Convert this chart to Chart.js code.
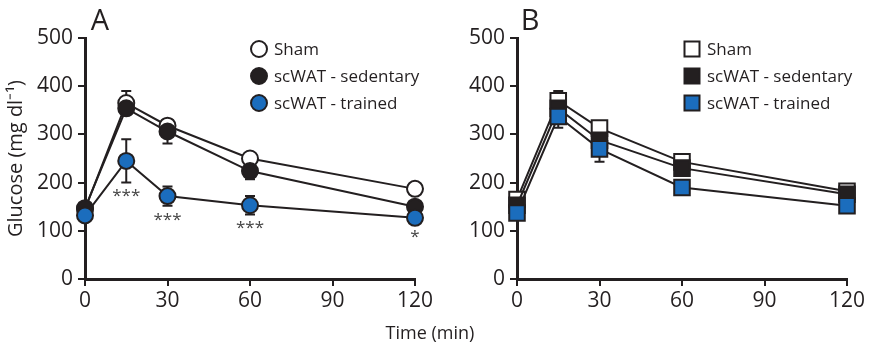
<!DOCTYPE html>
<html><head><meta charset="utf-8">
<script src="https://cdn.jsdelivr.net/npm/chart.js@4.4.0/dist/chart.umd.min.js"></script>
<style>
body{margin:0;background:#fff;width:869px;height:344px;position:relative;overflow:hidden;font-family:'Open Sans',sans-serif;color:#231f20}
#ca{position:absolute;left:0;top:0}
#cb{position:absolute;left:440px;top:0}
#xt{position:absolute;left:330px;width:200px;text-align:center;top:321px;font-size:18px;line-height:22px}
</style></head><body>
<canvas id="ca" width="440" height="344"></canvas>
<canvas id="cb" width="429" height="344"></canvas>
<div id="xt">Time (min)</div>
<script>
const time = [0, 15, 30, 60, 120];
const xTicks = [0, 30, 60, 90, 120];
const yTicks = [0, 100, 200, 300, 400, 500];
const seriesLabels = ['Sham', 'scWAT - sedentary', 'scWAT - trained'];
// Panel A
const shamA = [145, 365, 318, 250, 187];
const shamAErr = [8, 25, 12, 8, 6];
const sedA = [147, 354, 306, 224, 150];
const sedAErr = [8, 10, 25, 17, 8];
const trainA = [132, 245, 172, 153, 127];
const trainAErr = [6, 45, 20, 19, 5];
const sigA = ['', '***', '***', '***', '*'];
// Panel B
const shamB = [165, 370, 313, 243, 182];
const shamBErr = [15, 20, 12, 10, 8];
const sedB = [153, 354, 288, 230, 176];
const sedBErr = [10, 15, 15, 15, 8];
const trainB = [137, 337, 270, 190, 152];
const trainBErr = [10, 23, 27, 8, 6];

const INK = '#231f20';
const BLUE = '#1b6dbd';
const FONT = "'Open Sans', sans-serif";
const fills = ['#ffffff', INK, BLUE];

const errPlugin = {
  id: 'err',
  beforeDatasetsDraw(chart) {
    const ctx = chart.ctx, xs = chart.scales.x, ys = chart.scales.y;
    ctx.save();
    ctx.strokeStyle = INK; ctx.lineWidth = 2;
    chart.data.datasets.forEach(ds => {
      ds.vals.forEach((v, i) => {
        const px = xs.getPixelForValue(time[i]);
        const t = ys.getPixelForValue(v + ds.errs[i]);
        const b = ys.getPixelForValue(v - ds.errs[i]);
        ctx.beginPath();
        ctx.moveTo(px, t); ctx.lineTo(px, b);
        ctx.moveTo(px - 5, t); ctx.lineTo(px + 5, t);
        ctx.moveTo(px - 5, b); ctx.lineTo(px + 5, b);
        ctx.stroke();
      });
    });
    ctx.restore();
  }
};

function extrasPlugin(cfg) {
  return {
    id: 'extras',
    afterDraw(chart) {
      const ctx = chart.ctx, xs = chart.scales.x, ys = chart.scales.y;
      ctx.save();
      ctx.fillStyle = INK;
      ctx.font = "29px " + FONT;
      ctx.textAlign = 'center'; ctx.textBaseline = 'middle';
      ctx.fillText(cfg.letter, cfg.letterX, 22);
      ctx.font = "17px " + FONT;
      ctx.textAlign = 'left';
      seriesLabels.forEach((lab, i) => {
        const y = 49 + i * 27;
        ctx.beginPath();
        if (cfg.style === 'circle') {
          ctx.arc(cfg.legX, y, 8, 0, Math.PI * 2);
        } else {
          ctx.rect(cfg.legX - 7.5, y - 7.5, 15, 15);
        }
        ctx.fillStyle = fills[i]; ctx.fill();
        ctx.lineWidth = 2; ctx.strokeStyle = INK; ctx.stroke();
        ctx.fillStyle = INK;
        ctx.fillText(lab, cfg.legX + 15, y + 1);
      });
      if (cfg.sig) {
        ctx.fillStyle = '#444';
        ctx.font = "17px " + FONT;
        ctx.textAlign = 'center'; ctx.textBaseline = 'middle';
        cfg.sig.forEach((s, i) => {
          if (!s) return;
          const px = xs.getPixelForValue(time[i]);
          const low = ys.getPixelForValue(cfg.sigVals[i] - cfg.sigErr[i]);
          const mk = ys.getPixelForValue(cfg.sigVals[i]) + 5;
          ctx.fillText(s, px, Math.max(low, mk) + 14);
        });
      }
      ctx.restore();
    }
  };
}

function makeChart(id, cfg) {
  const datasets = cfg.series.map((s, i) => ({
    label: seriesLabels[i],
    data: time.map((t, j) => ({ x: t, y: s.v[j] })),
    vals: s.v, errs: s.e,
    borderColor: INK, borderWidth: 2,
    pointRadius: cfg.r, pointStyle: cfg.style,
    pointBackgroundColor: fills[i], pointBorderColor: INK, pointBorderWidth: 2,
    order: 3 - i, tension: 0, fill: false, clip: false
  }));
  const tickFont = { family: FONT, size: 21 };
  return new Chart(document.getElementById(id), {
    type: 'line',
    data: { datasets },
    options: {
      responsive: false, animation: false, events: [],
      layout: { padding: { left: 0, right: cfg.padR, top: 38, bottom: 0 } },
      plugins: { legend: { display: false }, tooltip: { enabled: false } },
      scales: {
        x: {
          type: 'linear', min: 0, max: 120,
          afterBuildTicks(s) { s.ticks = xTicks.map(v => ({ value: v })); },
          ticks: { color: INK, font: tickFont, padding: 2, maxRotation: 0 },
          grid: { drawOnChartArea: false, drawTicks: true, tickLength: 7, color: INK, lineWidth: 2 },
          border: { color: INK, width: 3 },
          afterFit(s) { s.height = 65; }
        },
        y: {
          min: 0, max: 500,
          afterBuildTicks(s) { s.ticks = yTicks.map(v => ({ value: v })); },
          ticks: { color: INK, font: tickFont, padding: 5 },
          grid: { drawOnChartArea: false, drawTicks: true, tickLength: 7, color: INK, lineWidth: 2 },
          border: { color: INK, width: 3 },
          title: cfg.yTitle ? { display: true, text: 'Glucose (mg dl⁻¹)', color: INK, font: { family: FONT, size: 20 }, padding: { top: 4, bottom: 0 } } : { display: false },
          afterFit(s) { s.width = cfg.yW; }
        }
      }
    },
    plugins: [errPlugin, extrasPlugin(cfg)]
  });
}

makeChart('ca', {
  series: [{ v: shamA, e: shamAErr }, { v: sedA, e: sedAErr }, { v: trainA, e: trainAErr }],
  r: 8, style: 'circle', padR: 25, yW: 85, yTitle: true,
  letter: 'A', letterX: 100, legX: 259,
  sig: sigA, sigVals: trainA, sigErr: trainAErr
});
makeChart('cb', {
  series: [{ v: shamB, e: shamBErr }, { v: sedB, e: sedBErr }, { v: trainB, e: trainBErr }],
  r: 11, style: 'rect', padR: 22, yW: 77, yTitle: false,
  letter: 'B', letterX: 90, legX: 252
});
</script>
</body></html>
